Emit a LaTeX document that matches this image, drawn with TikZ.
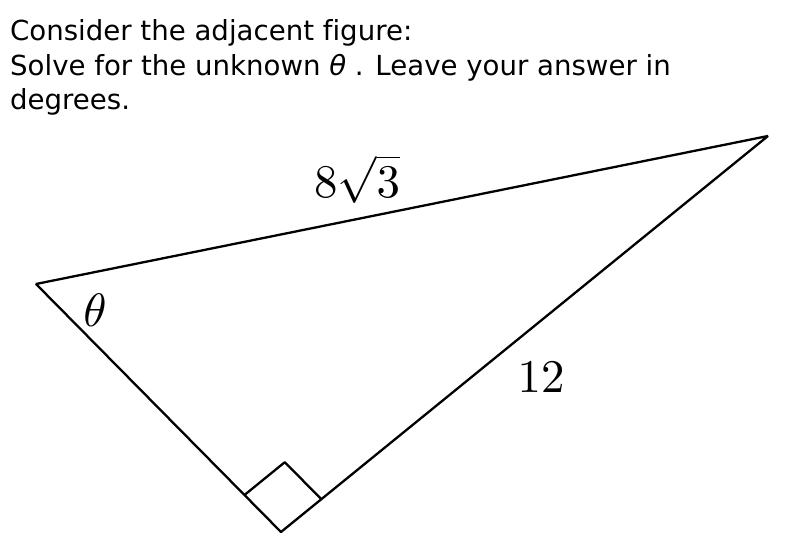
\documentclass[tikz,border=0pt]{standalone}
\usepackage{fontspec}
\setmainfont[Ligatures=NoCommon]{DejaVu Sans}
\usetikzlibrary{calc}
\newcommand{\biglbl}[1]{\scalebox{4.7}{$#1$}}

\begin{document}
\begin{tikzpicture}[line join=bevel,
  txt/.style={anchor=base west,inner sep=0pt,font=\fontsize{27.6bp}{35bp}\selectfont},
  lbl/.style={inner sep=0pt,font=\fontsize{10pt}{12pt}\selectfont},
  side/.style={line width=2.3bp,black}]
\useasboundingbox (0bp,0bp) rectangle (788bp,557bp);

% Text: question
\node[txt] (q1) at (10bp,516bp) {Consider the adjacent figure:};
\node[txt] (q2) at (10bp,481bp) {Solve for the unknown \textit{θ} . Leave your answer in};
\node[txt] (q3) at (10bp,447bp) {degrees.};

% Node: A, B, C
\coordinate (A) at (36bp,273bp);
\coordinate (B) at (768bp,421bp);
\coordinate (C) at (281bp,25bp);

% Edge: A -> B -> C -> A
\draw [side] (A) -- (B) -- (C) -- cycle;

% Right angle at C
\coordinate (CA) at ($(C)!52bp!(A)$);
\coordinate (CB) at ($(C)!52bp!(B)$);
\coordinate (CS) at ($(CA)+(CB)-(C)$);
\draw [side] (CA) -- (CS) -- (CB);

% Labels
\node[lbl] (hyp) at (357bp,378bp) {\biglbl{8\sqrt{3}}};
\node[lbl] (leg) at (541bp,180bp) {\biglbl{12}};
\node[lbl] (ang) at (95bp,247bp) {\biglbl{\theta}};

\end{tikzpicture}
\end{document}
